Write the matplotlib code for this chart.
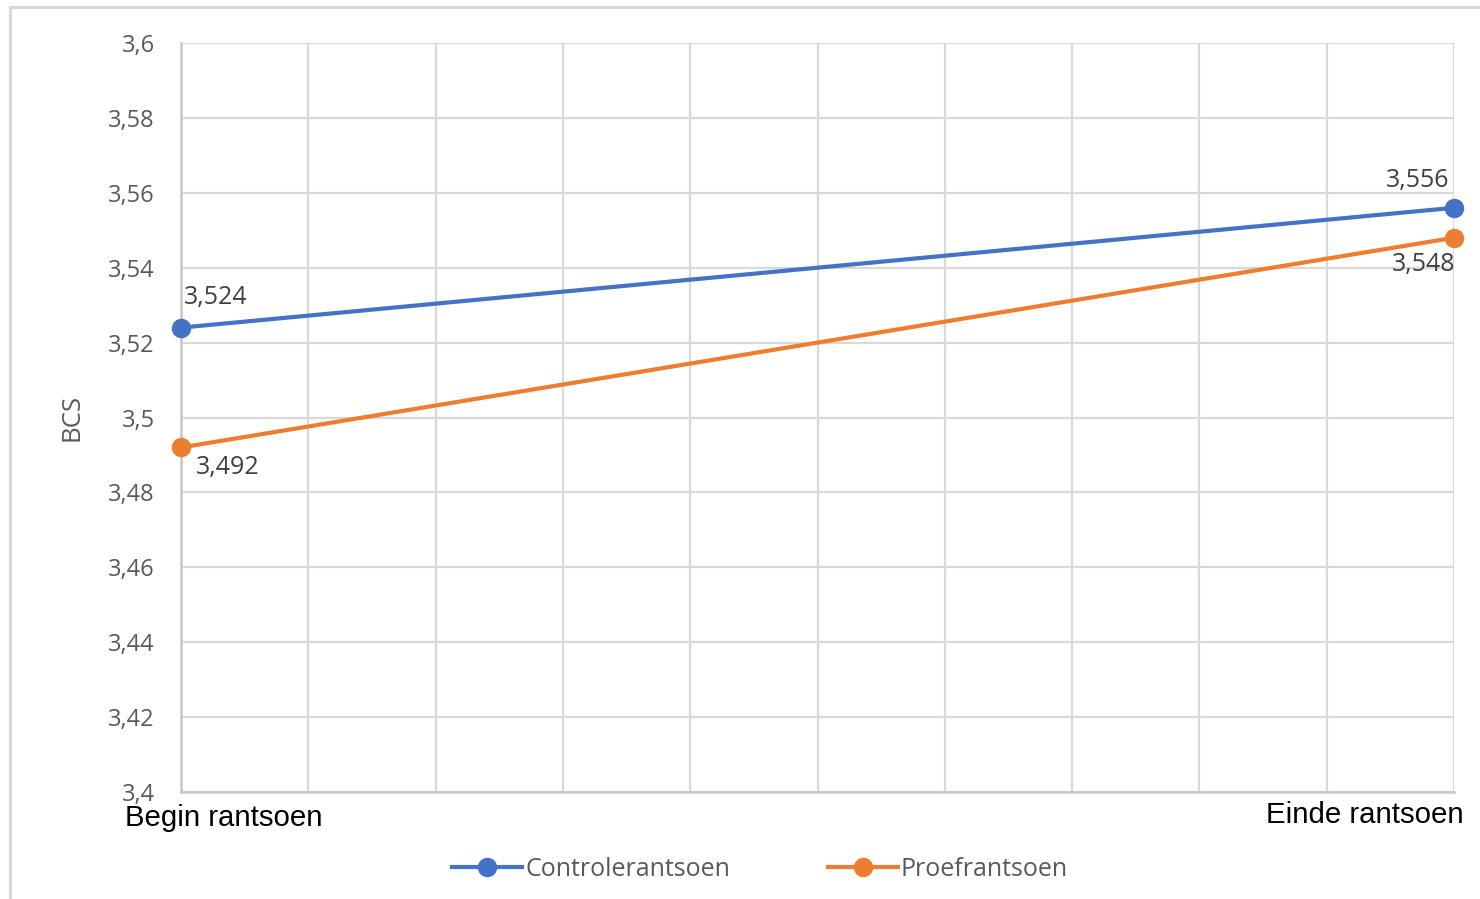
import matplotlib
matplotlib.use("Agg")
import matplotlib.pyplot as plt
from matplotlib.lines import Line2D
from matplotlib.ticker import FuncFormatter, MultipleLocator

categories = ["Begin rantsoen", "Einde rantsoen"]
series_names = ["Controlerantsoen", "Proefrantsoen"]
controle = [3.524, 3.556]
proef = [3.492, 3.548]
y_ticks = [3.40, 3.42, 3.44, 3.46, 3.48, 3.50, 3.52, 3.54, 3.56, 3.58, 3.60]

blue = "#4472C4"
orange = "#ED7D31"
grid_c = "#D9D9D9"
tick_c = "#595959"

fig = plt.figure(figsize=(14.8, 8.99), dpi=100)
ax = fig.add_axes([181/1480, 1-792/899, (1454-181)/1480, (792-43)/899])

x = [0, 1]
ax.plot(x, controle, color=blue, lw=3, marker="o", ms=13, label=series_names[0], zorder=3, clip_on=False)
ax.plot(x, proef, color=orange, lw=3, marker="o", ms=13, label=series_names[1], zorder=3, clip_on=False)

ax.set_xlim(0, 1)
ax.set_ylim(y_ticks[0], y_ticks[-1])
ax.set_yticks(y_ticks)
ax.yaxis.set_major_formatter(FuncFormatter(lambda v, p: f"{v:.2f}".rstrip("0").rstrip(".").replace(".", ",")))
ax.xaxis.set_major_locator(MultipleLocator(0.1))
ax.set_xticklabels([])
ax.tick_params(axis="both", length=0)
ax.tick_params(axis="y", labelsize=17, labelcolor=tick_c, pad=19)
for lab in ax.get_yticklabels():
    lab.set_family("Open Sans")
ax.grid(True, color=grid_c, lw=1.6)
ax.set_axisbelow(True)
for s in ["top", "right"]:
    ax.spines[s].set_visible(False)
for s in ["left", "bottom"]:
    ax.spines[s].set_color("#C8C8C8")
    ax.spines[s].set_linewidth(1.8)

ax.set_ylabel("BCS", fontsize=18.5, color=tick_c, family="Open Sans", labelpad=17)

# category labels
ax.text(0.0338, -0.035, categories[0], transform=ax.transAxes, ha="center", va="center",
        fontsize=21.2, family="Liberation Sans", color="black")
ax.text(0.930, -0.031, categories[1], transform=ax.transAxes, ha="center", va="center",
        fontsize=21.2, family="Liberation Sans", color="black")

def fmt(v):
    return f"{v:.3f}".replace(".", ",")

lab_kw = dict(textcoords="offset points", fontsize=18, color="#404040", family="Open Sans", va="center")
ax.annotate(fmt(controle[0]), (0, controle[0]), xytext=(2, 22), ha="left", **lab_kw, annotation_clip=False)
ax.annotate(fmt(proef[0]), (0, proef[0]), xytext=(11, -14.5), ha="left", **lab_kw, annotation_clip=False)
ax.annotate(fmt(controle[1]), (1, controle[1]), xytext=(-3, 20), ha="right", **lab_kw, annotation_clip=False)
ax.annotate(fmt(proef[1]), (1, proef[1]), xytext=(1, -19), ha="right", **lab_kw, annotation_clip=False)

leg = fig.legend(loc="center", bbox_to_anchor=(760/1480, 1-869/899), ncol=2, frameon=False,
                 handlelength=2.8, handletextpad=0.12, columnspacing=3.9,
                 prop={"family": "Open Sans", "size": 18})
for t in leg.get_texts():
    t.set_color(tick_c)

# outer chart border (top and left visible)
fig.add_artist(Line2D([10/1480, 10/1480], [0, 1-7/899], color=grid_c, lw=2.2, transform=fig.transFigure))
fig.add_artist(Line2D([10/1480, 1], [1-7/899, 1-7/899], color=grid_c, lw=2.2, transform=fig.transFigure))

fig.savefig("out.png", dpi=100)
